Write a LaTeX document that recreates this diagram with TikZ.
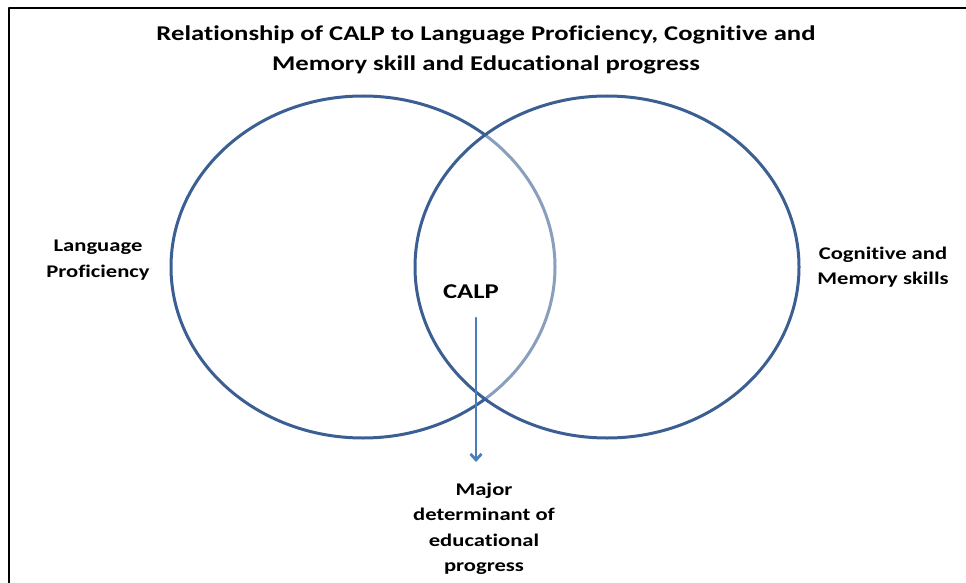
\documentclass[tikz,border=0pt]{standalone}
\usepackage{fontspec}
\setmainfont{Carlito}[FakeStretch=1.27,Ligatures=NoCommon]
\usepackage{xcolor}
\usetikzlibrary{arrows.meta,shapes.geometric}
\definecolor{ringblue}{HTML}{3B5F92}
\definecolor{arrowblue}{HTML}{4A7EBB}

\begin{document}
\begin{tikzpicture}
    [line cap=round,line join=round,x=1pt,y=-1pt,
     ring/.style={draw=ringblue,line width=3pt,ellipse,minimum width=384pt,minimum height=342pt,inner sep=0pt},
     lbl/.style={font=\bfseries\fontsize{17.8}{25.5}\selectfont,align=center,inner sep=0pt}]
\useasboundingbox (0,0) rectangle (966,583);
%frame (only top and left edges are seen)
\draw[black,line width=2pt] (966,8) -- (9,8) -- (9,583);
%title
\node[lbl,font=\bfseries\fontsize{21}{30}\selectfont] (title) at (486,50)
   {Relationship of CALP to Language Proficiency, Cognitive and\\Memory skill and Educational progress};
%the two sets
\node[ring] (lang) at (363,267) {};
\node[ring,fill=white,fill opacity=0.4] (cogn) at (607,267) {};
%labels
\node[lbl] (langlbl) at (98,260) {Language\\Proficiency};
\node[lbl] (cognlbl) at (883,267) {Cognitive and\\Memory skills};
\node[lbl,font=\bfseries\fontsize{21}{24}\selectfont] (calp) at (471,292) {CALP};
\node[lbl] (major) at (484,529) {Major\\determinant of\\educational\\progress};
%arrow
\coordinate (start) at (476,318);
\coordinate (tip) at (476,462);
\draw[-{Straight Barb[length=6pt,width=11pt]},color=arrowblue,line width=2.8pt] (start) -- (tip);
\end{tikzpicture}
\end{document}
